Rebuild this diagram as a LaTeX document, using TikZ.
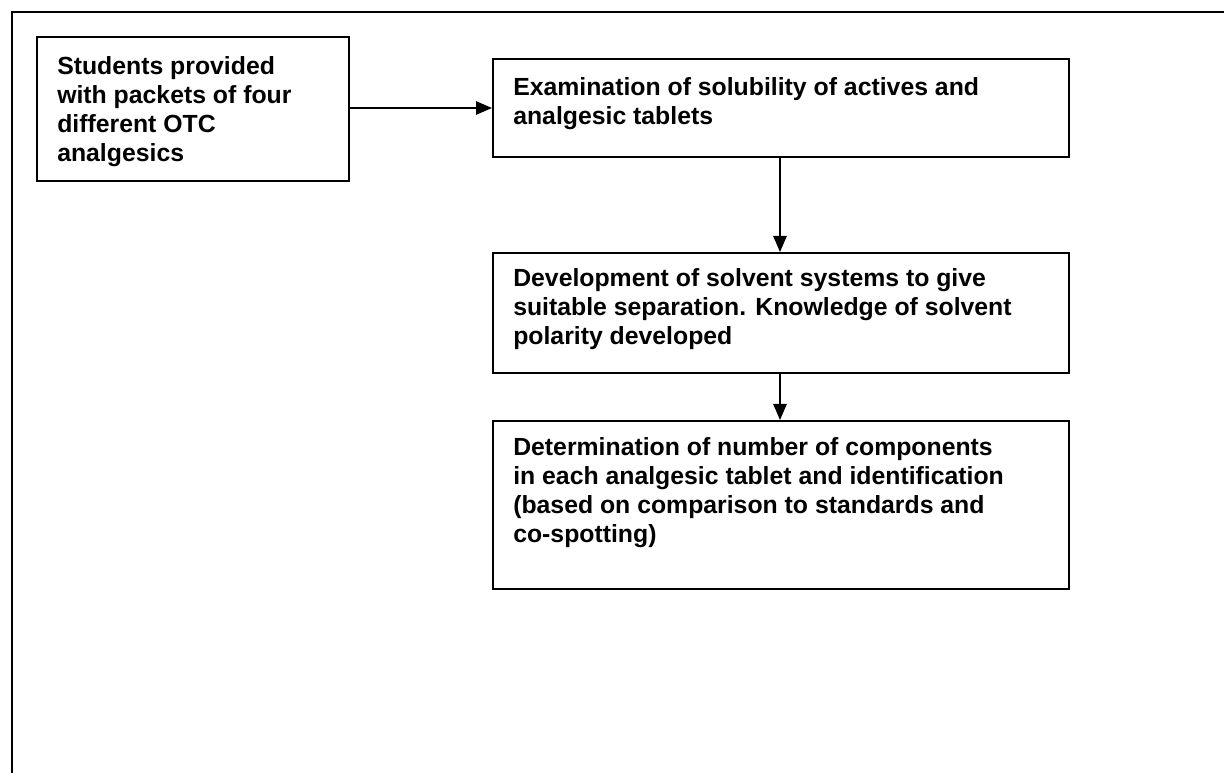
\documentclass[tikz,border=0pt]{standalone}
\usepackage{fontspec}
\setmainfont{Liberation Sans}
\usetikzlibrary{arrows.meta}
\begin{document}
\begin{tikzpicture}[x=0.75pt,y=-0.75pt,
  box/.style={draw,line width=1.6pt,inner sep=0pt,anchor=north west},
  txt/.style={anchor=north west,inner sep=0pt,align=left,font=\fontsize{18.6pt}{21.8pt}\selectfont\bfseries},
  conn/.style={line width=1.2pt,-{Triangle[length=12pt,width=10pt]}}]
\useasboundingbox (0,0) rectangle (1224,773);
\draw[line width=2pt] (12,775) -- (12,12) -- (1226,12);
\node[box,minimum width=312*0.75pt,minimum height=144*0.75pt] (a) at (36,36) {};
\node[box,minimum width=576*0.75pt,minimum height=98*0.75pt] (b) at (492,58) {};
\node[box,minimum width=576*0.75pt,minimum height=120*0.75pt] (c) at (492,252) {};
\node[box,minimum width=576*0.75pt,minimum height=168*0.75pt] (d) at (492,420) {};
\node[txt] (ta) at (57,56) {Students provided\\with packets of four\\different OTC\\analgesics};
\node[txt] (tb) at (513,77) {Examination of solubility of actives and\\analgesic tablets};
\node[txt] (tc) at (513,268) {Development of solvent systems to give\\suitable separation. Knowledge of solvent\\polarity developed};
\node[txt] (td) at (513,437) {Determination of number of components\\in each analgesic tablet and identification\\(based on comparison to standards and\\co-spotting)};
\draw[conn] (a.east |- 0,108) -- (b.west |- 0,108);
\draw[conn] (b.south -| 780,0) -- (c.north -| 780,0);
\draw[conn] (c.south -| 780,0) -- (d.north -| 780,0);
\end{tikzpicture}
\end{document}
